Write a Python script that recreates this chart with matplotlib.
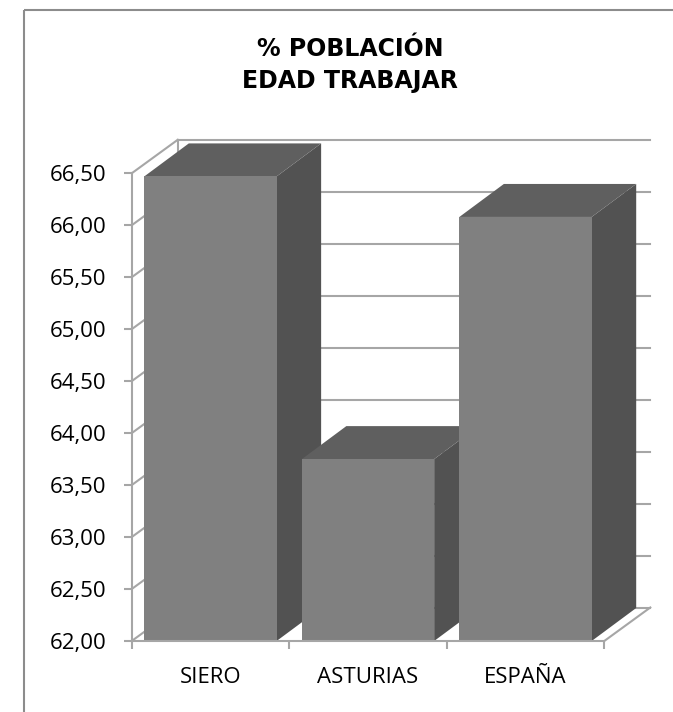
import matplotlib
matplotlib.use('Agg')
import matplotlib.pyplot as plt
from matplotlib.patches import Polygon
from matplotlib.lines import Line2D

# ---- data ----
categories = ['SIERO', 'ASTURIAS', 'ESPAÑA']
values = [66.47, 63.75, 66.08]
y_ticks = [62.0, 62.5, 63.0, 63.5, 64.0, 64.5, 65.0, 65.5, 66.0, 66.5]
y_tick_labels = ['62,00', '62,50', '63,00', '63,50', '64,00',
                 '64,50', '65,00', '65,50', '66,00', '66,50']
title_lines = ['% POBLACIÓN', 'EDAD TRABAJAR']

# ---- figure ----
W, H, DPI = 673, 712, 100
fig = plt.figure(figsize=(W / DPI, H / DPI), dpi=DPI)
fig.patch.set_facecolor('white')

ax = fig.add_axes([131.7 / W, 1 - 641 / H, 472.6 / W, 467.7 / H])
ax.set_xlim(0, len(categories))
ax.set_ylim(y_ticks[0], y_ticks[-1])
ax.patch.set_visible(False)

GRID = '#a6a6a6'
FRONT = '#808080'
TOP = '#5f5f5f'
SIDE = '#525252'


def offset_data(dx_px, dy_px):
    o = ax.transData.transform((0, y_ticks[0]))
    p = ax.transData.inverted().transform((o[0] + dx_px, o[1] + dy_px))
    return p[0], p[1] - y_ticks[0]


gdx, gdy = offset_data(46, 33.5)
bdx, bdy = offset_data(44.5, 33)
n = len(categories)
ymin, ymax = y_ticks[0], y_ticks[-1]

# back wall gridlines and left wall diagonals
for v in y_ticks:
    ax.add_line(Line2D([gdx, n + gdx], [v + gdy, v + gdy], color=GRID, lw=1.5,
                       clip_on=False, zorder=1))
    ax.add_line(Line2D([0, gdx], [v, v + gdy], color=GRID, lw=1.5,
                       clip_on=False, zorder=1))
ax.add_line(Line2D([gdx, gdx], [ymin + gdy, ymax + gdy], color=GRID, lw=1.5,
                   clip_on=False, zorder=1))
ax.add_line(Line2D([n, n + gdx], [ymin, ymin + gdy], color=GRID, lw=1.5,
                   clip_on=False, zorder=1))

# 3D-looking bars
bw = 0.84
for i, v in enumerate(values):
    x0 = i + 0.5 - bw / 2
    x1 = i + 0.5 + bw / 2
    z = 3 + i * 3
    side = Polygon([(x1, ymin), (x1 + bdx, ymin + bdy), (x1 + bdx, v + bdy), (x1, v)],
                   closed=True, facecolor=SIDE, edgecolor='none', clip_on=False, zorder=z)
    top = Polygon([(x0, v), (x1, v), (x1 + bdx, v + bdy), (x0 + bdx, v + bdy)],
                  closed=True, facecolor=TOP, edgecolor='none', clip_on=False, zorder=z + 1)
    front = Polygon([(x0, ymin), (x1, ymin), (x1, v), (x0, v)],
                    closed=True, facecolor=FRONT, edgecolor='none', clip_on=False, zorder=z + 2)
    ax.add_patch(side)
    ax.add_patch(top)
    ax.add_patch(front)

# spines
for s in ['top', 'right']:
    ax.spines[s].set_visible(False)
for s in ['left', 'bottom']:
    ax.spines[s].set_color(GRID)
    ax.spines[s].set_linewidth(1.5)
    ax.spines[s].set_zorder(20)

# ticks
ax.set_yticks(y_ticks)
ax.set_yticklabels(y_tick_labels, fontfamily='Open Sans', fontsize=16)
ax.tick_params(axis='y', length=5.5, width=1.5, color=GRID, pad=13)

ax.set_xticks(range(n + 1))
ax.set_xticklabels([''] * (n + 1))
ax.tick_params(axis='x', which='major', length=6, width=1.5, color=GRID)
ax.set_xticks([i + 0.5 for i in range(n)], minor=True)
ax.set_xticklabels(categories, minor=True, fontfamily='Open Sans', fontsize=16)
ax.tick_params(axis='x', which='minor', length=0, pad=18.5)

# title
fig.text(350 / W, 1 - 56 / H, title_lines[0], ha='center', va='baseline',
         fontfamily='DejaVu Sans', fontweight='bold', fontsize=17)
fig.text(350 / W, 1 - 88 / H, title_lines[1], ha='center', va='baseline',
         fontfamily='DejaVu Sans', fontweight='bold', fontsize=17)

# chart border (cropped at right/bottom)
fig.add_artist(Line2D([23.5 / W, 23.5 / W], [1 - 9.5 / H, 0], color='#8c8c8c', lw=1.5,
                      solid_capstyle='butt', transform=fig.transFigure))
fig.add_artist(Line2D([23.5 / W, 1], [1 - 9.5 / H, 1 - 9.5 / H], color='#8c8c8c', lw=1.5,
                      solid_capstyle='butt', transform=fig.transFigure))

fig.savefig('out.png', dpi=DPI, facecolor='white')
